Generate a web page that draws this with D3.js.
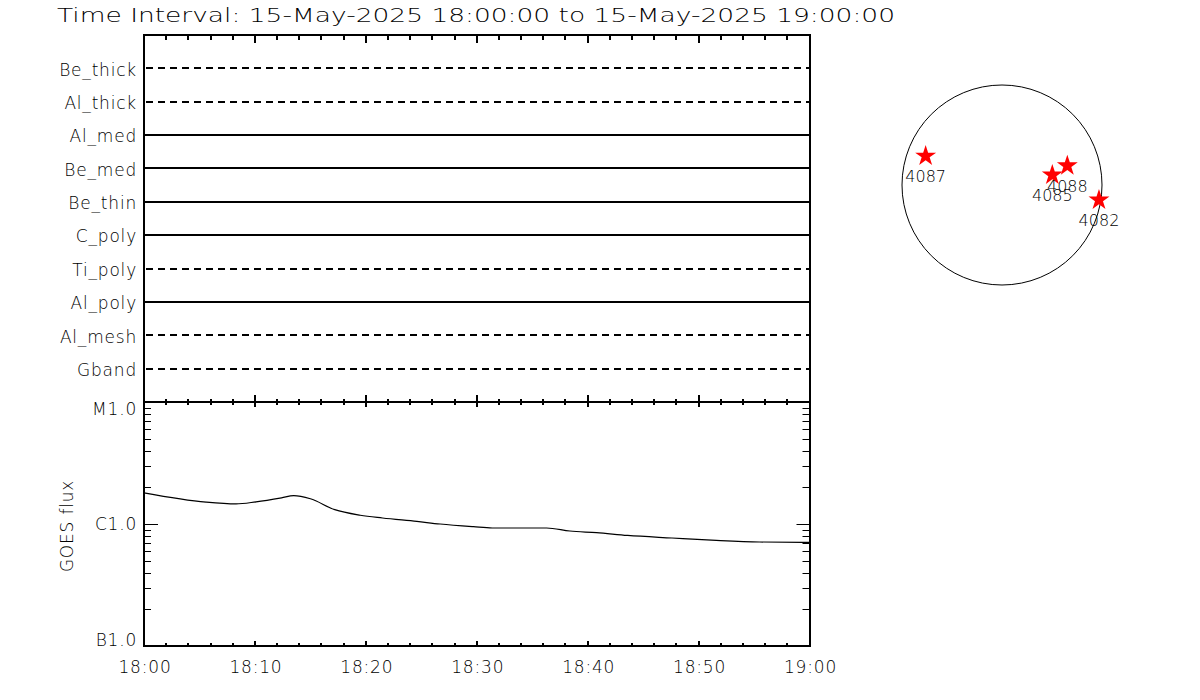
<!DOCTYPE html>
<html>
<head>
<meta charset="utf-8">
<script src="https://cdn.jsdelivr.net/npm/d3@7/dist/d3.min.js"></script>
<style>
  html, body { margin: 0; padding: 0; background: #fff; }
  svg { display: block; }
  text { font-family: "DejaVu Sans", "Liberation Sans", sans-serif; font-weight: 200; fill: #000; }
</style>
</head>
<body>
<svg id="chart" width="1200" height="700"></svg>
<script>
// ---------------- data ----------------
const titleText = "Time Interval: 15-May-2025 18:00:00 to 15-May-2025 19:00:00";
const startTime = "2025-05-15T18:00:00Z";
const endTime = "2025-05-15T19:00:00Z";

const channels = ["Be_thick", "Al_thick", "Al_med", "Be_med", "Be_thin", "C_poly", "Ti_poly", "Al_poly", "Al_mesh", "Gband"];
const channelDashed = [true, true, false, false, false, false, true, false, true, true];

const goesMinutes = [0, 5.6, 8.3, 10.1, 12.4, 13.5, 15, 17.2, 19.5, 21.5, 24.6, 26.7, 29.7, 31.4, 36.3, 38.4, 40.8, 43.6, 47.6, 51.6, 55.5, 59.4, 60];
const goesFlux = [1.80e-6, 1.51e-6, 1.46e-6, 1.52e-6, 1.64e-6, 1.71e-6, 1.61e-6, 1.31e-6, 1.18e-6, 1.12e-6, 1.05e-6, 1.00e-6, 0.95e-6, 0.927e-6, 0.927e-6, 0.876e-6, 0.849e-6, 0.806e-6, 0.768e-6, 0.734e-6, 0.712e-6, 0.707e-6, 0.707e-6];

const xTickLabels = ["18:00", "18:10", "18:20", "18:30", "18:40", "18:50", "19:00"];
const yTickValues = [1e-7, 1e-6, 1e-5];
const yTickLabels = ["B1.0", "C1.0", "M1.0"];
const yAxisTitle = "GOES flux";

const regionIds = ["4087", "4088", "4085", "4082"];
const regionX = [-733, 627, 483, 931];   // arcsec, solar west positive
const regionY = [278, 185, 96, -144];    // arcsec, solar north positive
const solarRadius = 960;                 // arcsec

// ---------------- layout ----------------
const svg = d3.select("#chart");
svg.append("rect").attr("width", 1200).attr("height", 700).attr("fill", "#fff");

const L = 144, R = 809.5;
const topT = 35, topB = 402;
const botT = 402, botB = 646;

const t0 = new Date(startTime), t1 = new Date(endTime);
const x = d3.scaleUtc().domain([t0, t1]).range([L, R]);

// title
svg.append("text")
  .attr("x", 57).attr("y", 22)
  .attr("font-size", 19)
  .attr("textLength", 838)
  .attr("lengthAdjust", "spacingAndGlyphs")
  .text(titleText);

// ---------------- top panel ----------------
const yc = d3.scalePoint().domain(channels).range([topT, topB]).padding(1);

const gTop = svg.append("g");
gTop.selectAll("line.ch")
  .data(channels)
  .join("line")
  .attr("class", "ch")
  .attr("x1", x(t0)).attr("x2", x(t1))
  .attr("y1", d => yc(d)).attr("y2", d => yc(d))
  .attr("stroke", "#000").attr("stroke-width", 2)
  .attr("shape-rendering", "crispEdges")
  .attr("stroke-dasharray", (d, i) => channelDashed[i] ? "7,5" : null)
  .attr("stroke-dashoffset", -2);

gTop.selectAll("text.ch")
  .data(channels)
  .join("text")
  .attr("class", "ch")
  .attr("x", L - 7)
  .attr("y", d => yc(d) + 7.3)
  .attr("text-anchor", "end")
  .attr("font-size", 17)
  .attr("letter-spacing", 0.8)
  .text(d => d);

// frame of top panel
gTop.append("rect")
  .attr("x", L).attr("y", topT).attr("width", R - L).attr("height", topB - topT)
  .attr("fill", "none").attr("stroke", "#000").attr("stroke-width", 2)
  .attr("shape-rendering", "crispEdges");

const minorT = x.ticks(d3.utcMinute.every(2));
const majorT = x.ticks(d3.utcMinute.every(10));
const isMajor = d => d.getUTCMinutes() % 10 === 0;

// top axis ticks (pointing down)
gTop.selectAll("line.tt")
  .data(minorT.filter(d => +d > +t0 && +d < +t1))
  .join("line").attr("class", "tt")
  .attr("x1", d => x(d)).attr("x2", d => x(d))
  .attr("y1", topT).attr("y2", d => topT + (isMajor(d) ? 8 : 5))
  .attr("stroke", "#000").attr("stroke-width", 2)
  .attr("shape-rendering", "crispEdges");

// ---------------- bottom panel ----------------
const y = d3.scaleLog().domain([1e-7, 1e-5]).range([botB, botT]);
const gBot = svg.append("g");

gBot.append("rect")
  .attr("x", L).attr("y", botT).attr("width", R - L).attr("height", botB - botT)
  .attr("fill", "none").attr("stroke", "#000").attr("stroke-width", 2)
  .attr("shape-rendering", "crispEdges");

// shared axis ticks at y=402 (both directions)
gBot.selectAll("line.mt")
  .data(minorT.filter(d => +d > +t0 && +d < +t1))
  .join("line").attr("class", "mt")
  .attr("x1", d => x(d)).attr("x2", d => x(d))
  .attr("y1", d => botT - (isMajor(d) ? 7 : 3)).attr("y2", d => botT + (isMajor(d) ? 5 : 3))
  .attr("stroke", "#000").attr("stroke-width", 2)
  .attr("shape-rendering", "crispEdges");

// bottom axis ticks (pointing up)
gBot.selectAll("line.bt")
  .data(minorT.filter(d => +d > +t0 && +d < +t1))
  .join("line").attr("class", "bt")
  .attr("x1", d => x(d)).attr("x2", d => x(d))
  .attr("y1", botB).attr("y2", d => botB - (isMajor(d) ? 5 : 3))
  .attr("stroke", "#000").attr("stroke-width", 2)
  .attr("shape-rendering", "crispEdges");

// x labels
gBot.selectAll("text.xl")
  .data(majorT)
  .join("text").attr("class", "xl")
  .attr("x", d => x(d) + 1)
  .attr("y", 673)
  .attr("text-anchor", "middle")
  .attr("font-size", 17)
  .attr("letter-spacing", 0.8)
  .text((d, i) => xTickLabels[i]);

// log y ticks
const yTicks = y.ticks();
const isDecade = v => Math.abs(Math.log10(v) - Math.round(Math.log10(v))) < 1e-6;
gBot.selectAll("line.yl")
  .data(yTicks.filter(v => v > 1e-7 && v < 1e-5))
  .join("line").attr("class", "yl")
  .attr("x1", L).attr("x2", v => L + (isDecade(v) ? 14 : 7))
  .attr("y1", v => Math.round(y(v)) + 0.5).attr("y2", v => Math.round(y(v)) + 0.5)
  .attr("stroke", "#000").attr("stroke-width", 1);
gBot.selectAll("line.yr")
  .data(yTicks.filter(v => v > 1e-7 && v < 1e-5))
  .join("line").attr("class", "yr")
  .attr("x1", R).attr("x2", v => R - (isDecade(v) ? 13 : 7))
  .attr("y1", v => Math.round(y(v)) + 0.5).attr("y2", v => Math.round(y(v)) + 0.5)
  .attr("stroke", "#000").attr("stroke-width", 1);

const yLabOff = [0, 6.3, 13];
gBot.selectAll("text.ylab")
  .data(yTickValues)
  .join("text").attr("class", "ylab")
  .attr("x", L - 7)
  .attr("y", (v, i) => y(v) + yLabOff[i])
  .attr("text-anchor", "end")
  .attr("font-size", 17)
  .attr("letter-spacing", 0.8)
  .text((v, i) => yTickLabels[i]);

gBot.append("text")
  .attr("transform", `translate(73, ${(botT + botB) / 2 + 2}) rotate(-90)`)
  .attr("text-anchor", "middle")
  .attr("font-size", 17)
  .attr("letter-spacing", 0.8)
  .text(yAxisTitle);

// GOES curve
const goesData = goesMinutes.map((m, i) => ({ t: t0.getTime() + m * 60000, v: goesFlux[i] }));
const line = d3.line().x(d => x(new Date(d.t))).y(d => y(d.v)).curve(d3.curveMonotoneX);
gBot.append("path")
  .datum(goesData)
  .attr("d", line)
  .attr("fill", "none")
  .attr("stroke", "#000")
  .attr("stroke-width", 1.2);

// ---------------- solar disk ----------------
const cx = 1002, cy = 185, rPix = 100;
const sx = d3.scaleLinear().domain([-solarRadius, solarRadius]).range([cx - rPix, cx + rPix]);
const sy = d3.scaleLinear().domain([-solarRadius, solarRadius]).range([cy + rPix, cy - rPix]);

svg.append("circle")
  .attr("cx", sx(0)).attr("cy", sy(0)).attr("r", sx(solarRadius) - sx(0))
  .attr("fill", "none").attr("stroke", "#000").attr("stroke-width", 1);

const star = d3.symbol().type(d3.symbolStar).size(136);
const gSun = svg.append("g");
gSun.selectAll("path.st")
  .data(regionIds)
  .join("path").attr("class", "st")
  .attr("transform", (d, i) => `translate(${sx(regionX[i])},${sy(regionY[i])})`)
  .attr("d", star)
  .attr("fill", "#ff0000");
gSun.selectAll("text.st")
  .data(regionIds)
  .join("text").attr("class", "st")
  .attr("x", (d, i) => sx(regionX[i]))
  .attr("y", (d, i) => sy(regionY[i]) + 26)
  .attr("text-anchor", "middle")
  .attr("font-size", 16)
  .text(d => d);
</script>
</body>
</html>
